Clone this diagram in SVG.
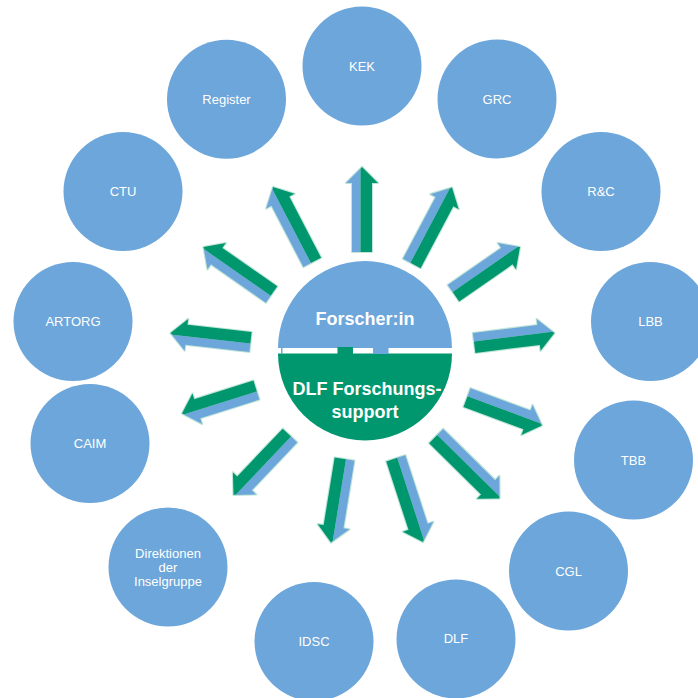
<svg xmlns="http://www.w3.org/2000/svg" width="698" height="698" viewBox="0 0 698 698">
<style>
.c{fill:#6ca6da}
.lbl{fill:#ffffff;font-family:"Liberation Sans",Arial,sans-serif;font-size:13px;text-anchor:middle}
.big{fill:#ffffff;font-family:"Liberation Sans",Arial,sans-serif;font-size:18px;font-weight:bold;text-anchor:middle}
.halo{fill:#bfe5d7;stroke:#bfe5d7;stroke-width:2.2;stroke-linejoin:round}
.ab{fill:#6ca6da}
.ag{fill:#00976f}
</style>
<defs>
  <path id="h85" d="M-85,-10H-16V-16L0,0L-16,16V10H-85Z"/>
</defs>
<rect width="698" height="698" fill="#ffffff"/>
<g id="center">
  <path class="c" d="M278,348 A87,87 0 0 1 452,348 Z"/>
  <path class="ag" d="M278,353.5 A87,87 0 0 0 452,353.5 Z"/>
  <rect class="ag" x="337.5" y="347" width="15.5" height="7"/>
  <rect class="c" x="373" y="347" width="15.5" height="7"/>
  <rect class="c" x="281" y="347" width="1.5" height="7"/>
  <text class="big" x="365" y="325">Forscher:in</text>
  <text class="big" x="367" y="395">DLF Forschungs-</text>
  <text class="big" x="365" y="418">support</text>
</g>
<g id="connectors">
  <g transform="translate(362,167) rotate(-90)"><path class="halo" d="M-85,-10H-16V-16L0,0L-16,16V10H-85Z"/><path class="ab" d="M-85,-10H-16V-16L0,0L-2,-1.5H-85Z"/><path class="ag" d="M-85,-1.5H-2L0,0L-16,16V10H-85Z"/></g>
  <g transform="translate(452,187.5) rotate(-62.1)"><path class="halo" d="M-86,-10H-16V-16L0,0L-16,16V10H-86Z"/><path class="ab" d="M-86,-10H-16V-16L0,0L-2,-1.5H-86Z"/><path class="ag" d="M-86,-1.5H-2L0,0L-16,16V10H-86Z"/></g>
  <g transform="translate(520,247) rotate(-34.8)"><path class="halo" d="M-81,-10H-16V-16L0,0L-16,16V10H-81Z"/><path class="ab" d="M-81,-10H-16V-16L0,0L-2,-1.5H-81Z"/><path class="ag" d="M-81,-1.5H-2L0,0L-16,16V10H-81Z"/></g>
  <g transform="translate(554.5,333) rotate(-7.1)"><path class="halo" d="M-81,-10H-16V-16L0,0L-16,16V10H-81Z"/><path class="ab" d="M-81,-10H-16V-16L0,0L-2,-1.5H-81Z"/><path class="ag" d="M-81,-1.5H-2L0,0L-16,16V10H-81Z"/></g>
  <g transform="translate(542,425.5) rotate(20.4)"><path class="halo" d="M-80,-10H-16V-16L0,0L-16,16V10H-80Z"/><path class="ab" d="M-80,-10H-16V-16L0,0L-2,-1.5H-80Z"/><path class="ag" d="M-80,-1.5H-2L0,0L-16,16V10H-80Z"/></g>
  <g transform="translate(499.5,498.5) rotate(44.6)"><path class="halo" d="M-89,-10H-16V-16L0,0L-16,16V10H-89Z"/><path class="ab" d="M-89,-10H-16V-16L0,0L-2,-1.5H-89Z"/><path class="ag" d="M-89,-1.5H-2L0,0L-16,16V10H-89Z"/></g>
  <g transform="translate(423,542) rotate(72)"><path class="halo" d="M-88,-10H-16V-16L0,0L-16,16V10H-88Z"/><path class="ab" d="M-88,-10H-16V-16L0,0L-2,-1.5H-88Z"/><path class="ag" d="M-88,-1.5H-2L0,0L-16,16V10H-88Z"/></g>
  <g transform="translate(331,542.5) rotate(99.2)"><path class="halo" d="M-84.5,-10H-16V-16L0,0L-16,16V10H-84.5Z"/><path class="ab" d="M-84.5,-10H-16V-16L0,0L-2,-1.5H-84.5Z"/><path class="ag" d="M-84.5,-1.5H-2L0,0L-16,16V10H-84.5Z"/></g>
  <g transform="translate(233.5,495) rotate(133.5)"><path class="halo" d="M-82,-10H-16V-16L0,0L-16,16V10H-82Z"/><path class="ab" d="M-82,-10H-16V-16L0,0L-2,-1.5H-82Z"/><path class="ag" d="M-82,-1.5H-2L0,0L-16,16V10H-82Z"/></g>
  <g transform="translate(182,413.5) rotate(162.5)"><path class="halo" d="M-78,-10H-16V-16L0,0L-16,16V10H-78Z"/><path class="ab" d="M-78,-10H-16V-16L0,0L-2,-1.5H-78Z"/><path class="ag" d="M-78,-1.5H-2L0,0L-16,16V10H-78Z"/></g>
  <g transform="translate(170.5,333) rotate(-173.6)"><path class="halo" d="M-80.5,-10H-16V-16L0,0L-16,16V10H-80.5Z"/><path class="ab" d="M-80.5,-10H-16V-16L0,0L-2,-1.5H-80.5Z"/><path class="ag" d="M-80.5,-1.5H-2L0,0L-16,16V10H-80.5Z"/></g>
  <g transform="translate(203.5,247) rotate(-145.1)"><path class="halo" d="M-83,-10H-16V-16L0,0L-16,16V10H-83Z"/><path class="ab" d="M-83,-10H-16V-16L0,0L-2,-1.5H-83Z"/><path class="ag" d="M-83,-1.5H-2L0,0L-16,16V10H-83Z"/></g>
  <g transform="translate(273,187) rotate(-117.5)"><path class="halo" d="M-85,-10H-16V-16L0,0L-16,16V10H-85Z"/><path class="ab" d="M-85,-10H-16V-16L0,0L-2,-1.5H-85Z"/><path class="ag" d="M-85,-1.5H-2L0,0L-16,16V10H-85Z"/></g>
</g>
<g id="kek"><circle class="c" cx="362" cy="66" r="59.5"/><text class="lbl" x="362" y="70.5">KEK</text></g>
<g id="grc"><circle class="c" cx="497" cy="99" r="59.5"/><text class="lbl" x="497" y="103.5">GRC</text></g>
<g id="rc"><circle class="c" cx="601" cy="191.5" r="59.5"/><text class="lbl" x="601" y="196">R&amp;C</text></g>
<g id="lbb"><circle class="c" cx="650.5" cy="321.5" r="59.5"/><text class="lbl" x="650.5" y="326">LBB</text></g>
<g id="tbb"><circle class="c" cx="633.5" cy="460" r="59.5"/><text class="lbl" x="633.5" y="464.5">TBB</text></g>
<g id="cgl"><circle class="c" cx="568.5" cy="571" r="59.5"/><text class="lbl" x="568.5" y="575.5">CGL</text></g>
<g id="dlf"><circle class="c" cx="456" cy="639" r="59.5"/><text class="lbl" x="456" y="643">DLF</text></g>
<g id="idsc"><circle class="c" cx="314" cy="641.5" r="59.5"/><text class="lbl" x="314" y="646">IDSC</text></g>
<g id="direktionen"><circle class="c" cx="168" cy="567" r="59.5"/><text class="lbl" x="168" y="558">Direktionen</text><text class="lbl" x="168" y="572">der</text><text class="lbl" x="168" y="586">Inselgruppe</text></g>
<g id="caim"><circle class="c" cx="90" cy="443.5" r="59.5"/><text class="lbl" x="90" y="448">CAIM</text></g>
<g id="artorg"><circle class="c" cx="73" cy="321.5" r="59.5"/><text class="lbl" x="73" y="326">ARTORG</text></g>
<g id="ctu"><circle class="c" cx="123" cy="191.5" r="59.5"/><text class="lbl" x="123" y="196">CTU</text></g>
<g id="register"><circle class="c" cx="226.5" cy="99.3" r="59.5"/><text class="lbl" x="226.5" y="103.8">Register</text></g>
</svg>
